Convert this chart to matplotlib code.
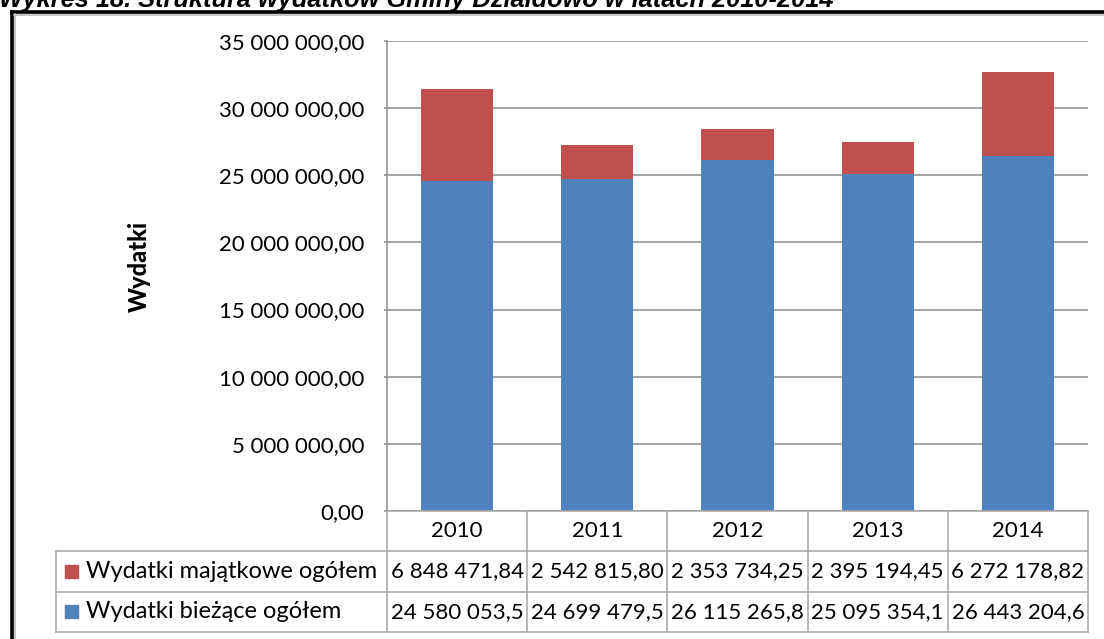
import matplotlib
matplotlib.use("Agg")
import matplotlib.pyplot as plt
from matplotlib.lines import Line2D
from matplotlib.patches import Rectangle

years = ["2010", "2011", "2012", "2013", "2014"]
biezace = [24580053.5, 24699479.5, 26115265.8, 25095354.1, 26443204.6]
majatkowe = [6848471.84, 2542815.80, 2353734.25, 2395194.45, 6272178.82]
biezace_txt = ["24 580 053,5", "24 699 479,5", "26 115 265,8", "25 095 354,1", "26 443 204,6"]
majatkowe_txt = ["6 848 471,84", "2 542 815,80", "2 353 734,25", "2 395 194,45", "6 272 178,82"]
series_names = ["Wydatki majątkowe ogółem", "Wydatki bieżące ogółem"]
yticks = [0, 5e6, 10e6, 15e6, 20e6, 25e6, 30e6, 35e6]
title = "Wykres 18. Struktura wydatków Gminy Działdowo w latach 2010-2014"

BLUE = "#4F81BD"
RED = "#C0504D"
GRID = "#8C8C8C"
TBL = "#A6A6A6"
FONT = "Lato"

W, H = 1104, 639
fig = plt.figure(figsize=(W / 100, H / 100), dpi=100)
fx = lambda x: x / W
fy = lambda y: 1 - y / H

# plot area
x0, x1, ytop, ybot = 387, 1088, 41, 511
ax = fig.add_axes([fx(x0), fy(ybot), fx(x1) - fx(x0), fy(ytop) - fy(ybot)])
xs = list(range(len(years)))
ax.bar(xs, biezace, width=0.515, color=BLUE, zorder=3)
ax.bar(xs, majatkowe, bottom=biezace, width=0.515, color=RED, zorder=3)
ax.set_xlim(-0.5, len(years) - 0.5)
ax.set_ylim(0, 35e6)
ax.set_yticks(yticks)
ax.set_yticklabels(["{:,.2f}".format(v).replace(",", " ").replace(".", ",") for v in yticks],
                   fontsize=16, family=FONT, color="#000000")
ax.set_xticks([])
ax.grid(axis="y", color=GRID, linewidth=1.1, zorder=0)
for s in ["top", "right", "bottom"]:
    ax.spines[s].set_visible(False)
ax.spines["left"].set_color(GRID)
ax.spines["left"].set_linewidth(1.1)
ax.tick_params(axis="y", length=2.5, width=1.1, color=GRID, pad=14)

fig.text(fx(139), fy(267), "Wydatki", rotation=90, ha="center", va="center",
         fontsize=17, family=FONT, fontweight="black")

# data table
tl = 56
rows = [511, 551, 591.5, 632]
colw = (x1 - x0) / len(years)
def hline(x_a, x_b, y):
    fig.add_artist(Line2D([fx(x_a), fx(x_b)], [fy(y), fy(y)], color=TBL, lw=1.1))
def vline(x, y_a, y_b):
    fig.add_artist(Line2D([fx(x), fx(x)], [fy(y_a), fy(y_b)], color=TBL, lw=1.1))

hline(x0, x1, rows[0])
for y in rows[1:]:
    hline(tl, x1, y)
vline(tl, rows[1], rows[3])
for i in range(len(years) + 1):
    vline(x0 + i * colw, rows[0], rows[3])

for i, yr in enumerate(years):
    cx = x0 + (i + 0.5) * colw
    fig.text(fx(cx), fy((rows[0] + rows[1]) / 2), yr, ha="center", va="center",
             fontsize=16, family=FONT)
    fig.text(fx(cx), fy((rows[1] + rows[2]) / 2), majatkowe_txt[i], ha="center", va="center",
             fontsize=16, family=FONT)
    fig.text(fx(cx), fy((rows[2] + rows[3]) / 2), biezace_txt[i], ha="center", va="center",
             fontsize=16, family=FONT)

for r, (name, col) in enumerate(zip(series_names, [RED, BLUE])):
    cy = (rows[r + 1] + rows[r + 2]) / 2
    fig.add_artist(Rectangle((fx(65), fy(cy + 6.5)), fx(13), 13 / H, color=col))
    fig.text(fx(86), fy(cy), name, ha="left", va="center", fontsize=17, family=FONT)

# outer frame (partly cropped)
fig.add_artist(Line2D([fx(11.5), fx(11.5)], [fy(11.5), fy(H + 5)], color="#000000", lw=2.6))
fig.add_artist(Line2D([fx(11.5), fx(W + 5)], [fy(11.5), fy(11.5)], color="#000000", lw=2.6))
fig.add_artist(Line2D([fx(14.5), fx(14.5)], [fy(14), fy(H + 5)], color="#BBBBBB", lw=1.2))
fig.add_artist(Line2D([fx(14), fx(W + 5)], [fy(14.5), fy(14.5)], color="#BBBBBB", lw=1.2))

# title cropped at top (as in the reference)
fig.text(fx(-1), fy(6.5), title, ha="left", va="baseline", fontsize=18.3,
         family="Liberation Sans", style="italic", fontweight="bold")

fig.savefig("out.png", dpi=100)
